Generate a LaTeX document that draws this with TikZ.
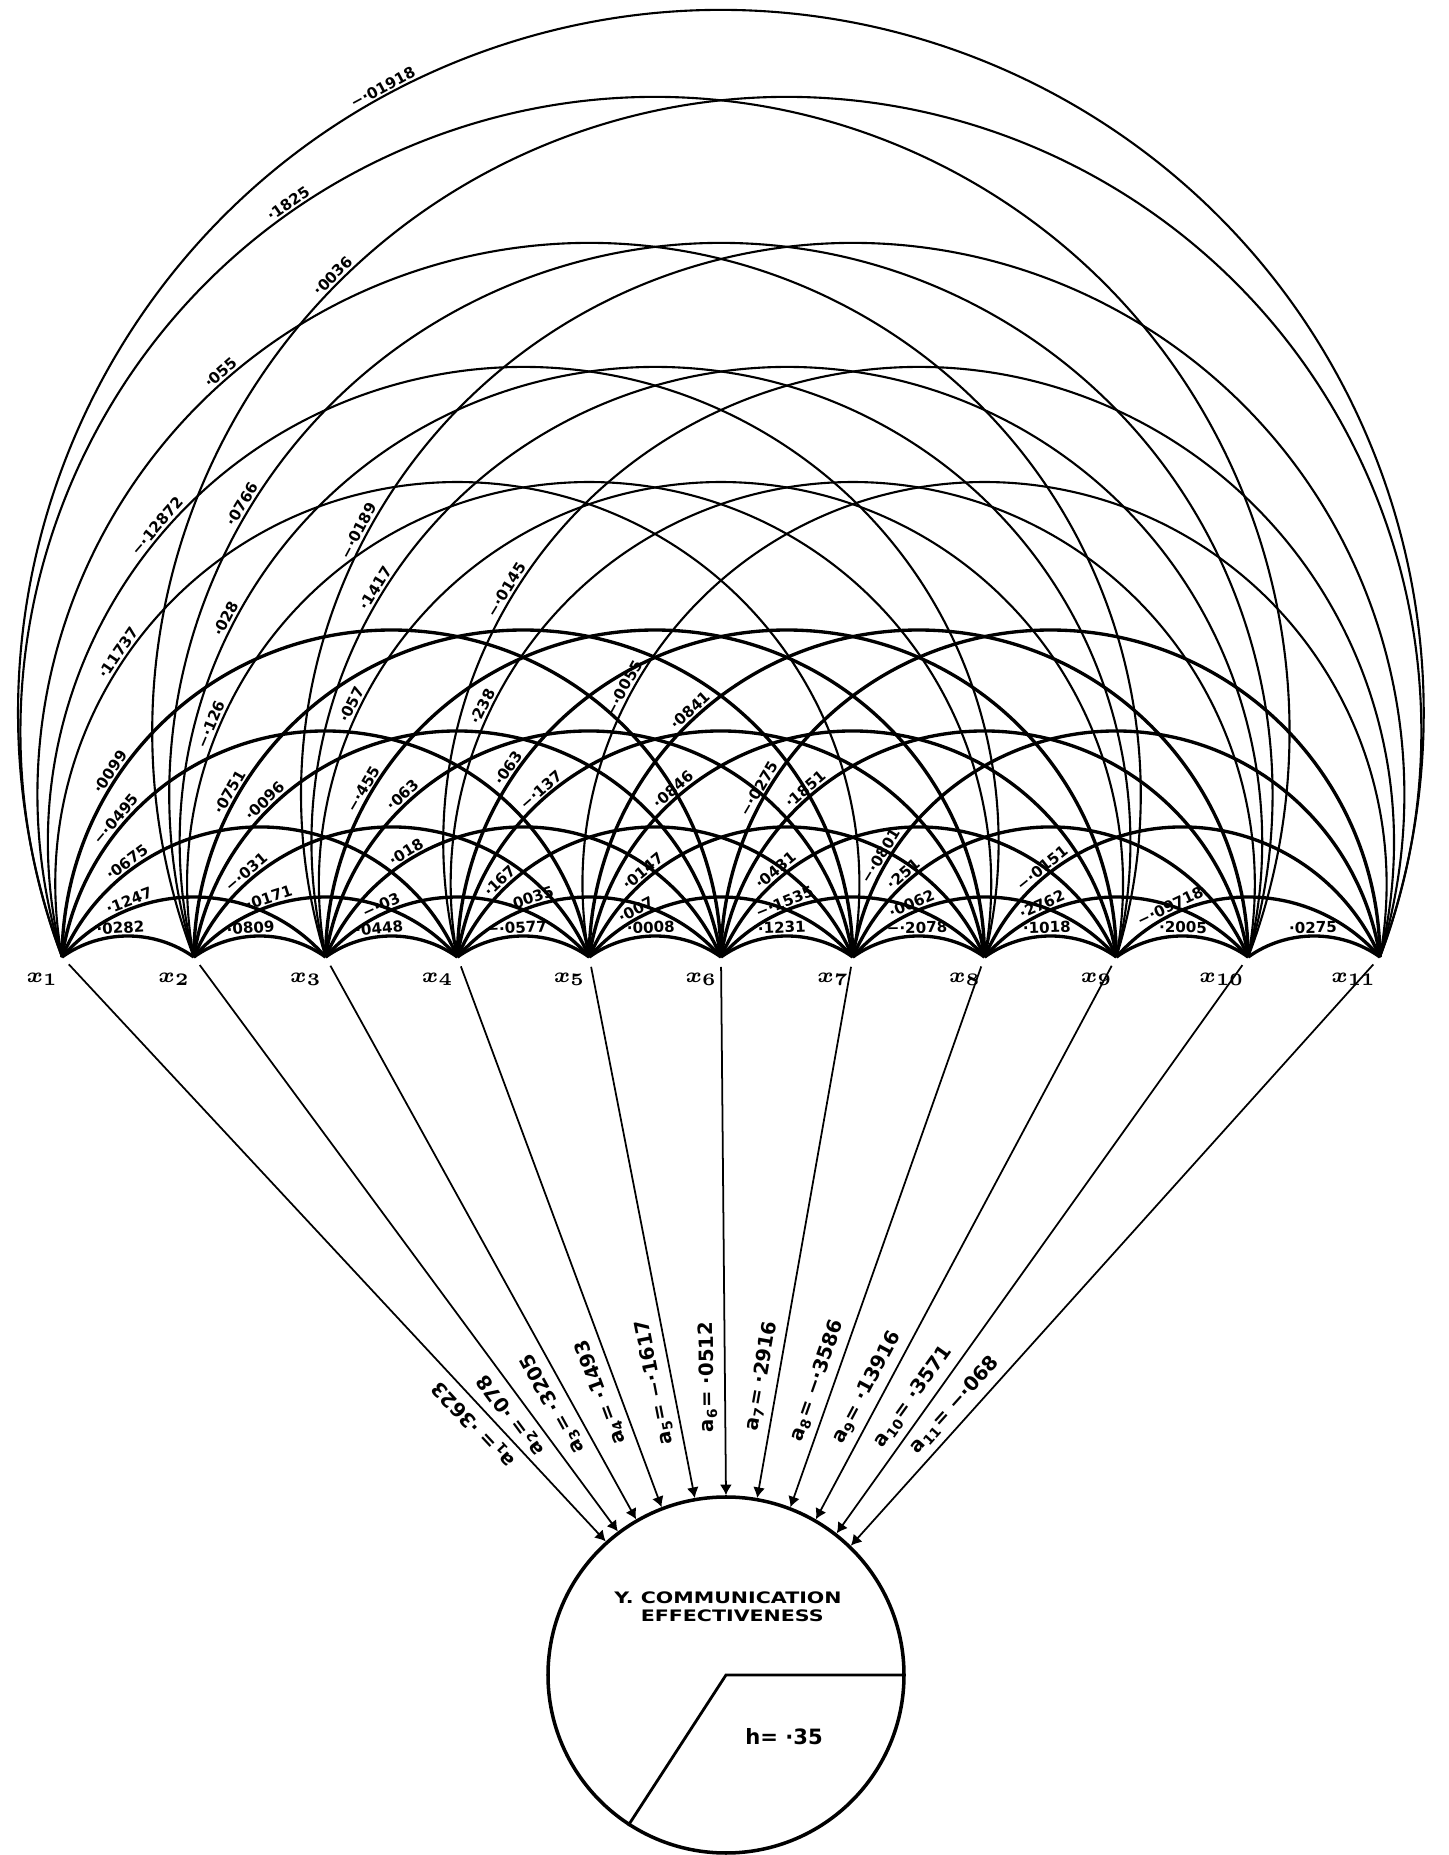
\documentclass[tikz,border=0pt]{standalone}
\usepackage{fontspec}
\newfontfamily\lblfont{DejaVu Sans}
\newfontfamily\widefont{DejaVu Sans}[FakeStretch=1.3]
\usetikzlibrary{arrows.meta, calc, positioning}

\tikzset{
  corr/.style={font=\lblfont\bfseries\fontsize{4.3}{5}\selectfont, anchor=south, inner sep=0.6pt},
  xlab/.style={font=\boldmath\fontsize{6.5}{7}\selectfont, inner sep=0pt},
  alab/.style={font=\lblfont\bfseries\fontsize{5.6}{6}\selectfont, sloped, allow upside down, above=1.5pt, inner sep=0.5pt},
  wline/.style={line width=0.5pt, shorten >=1mm},
}

\begin{document}
\begin{tikzpicture}[>={Latex[length=3pt,width=3.4pt]}]
\useasboundingbox (0,0) rectangle (14.49,18.55);

% the eleven variables on the base line
\foreach \i in {1,...,11} {
  \coordinate (v\i) at ({0.62+1.318*(\i-1)}, 8.98);
  \node[xlab, below left=1.5mm and 0.3mm of v\i] (x\i) {$x_{\i}$};
}

% correlation arcs
\foreach \i/\j/\ang/\val in {
  1/2/93.5/·0282, 1/3/110.7/·1247, 1/4/126.4/·0675, 1/5/139.6/−·0495, 1/6/146.3/·0099,
  1/7/145.7/·11737, 1/8/139.2/−·12872, 1/9/131.1/·055, 1/10/124.8/·1825, 1/11/118.4/−·01918,
  2/3/94.3/·0809, 2/4/108/·0171, 2/5/130.5/−·031, 2/6/134.4/·0096, 2/7/150.3/·0751,
  2/8/157.1/−·126, 2/9/152.5/·028, 2/10/148.8/·0766, 2/11/134.9/·0036,
  3/4/95.8/·0448, 3/5/114.6/−·03, 3/6/121.6/·018, 3/7/132.6/·063, 3/8/149.7/−·455,
  3/9/154.1/·057, 3/10/148.3/·1417, 3/11/151.9/−·0189,
  4/5/93.1/−·0577, 4/6/108.7/·0035, 4/7/133.9/·167, 4/8/130.9/−·137, 4/9/145.5/·063,
  4/10/154.4/·238, 4/11/148.5/−·0145,
  5/6/92/·0008, 5/7/117.7/·007, 5/8/130.1/·0147, 5/9/130.8/·0846, 5/10/132.5/·0841,
  5/11/151.5/−·0055,
  6/7/92.4/·1231, 6/8/111.9/−·1535, 6/9/129.8/·0431, 6/10/130.7/·1851, 6/11/149.6/−·0275,
  7/8/90.8/−·2078, 7/9/113.5/·0062, 7/10/131.1/·251, 7/11/148.9/−·0801,
  8/9/91.7/·1018, 8/10/114/·2762, 8/11/128.8/−·0151,
  9/10/89.7/·2005, 9/11/115.2/−·09718,
  10/11/90.5/·0275} {
  \pgfmathtruncatemacro\kk{\j-\i}
  \pgfmathsetmacro\hh{{0.21,0.60,1.30,2.26,3.27,4.75,5.90,7.14,8.60,9.47}[\kk-1]}
  \pgfmathsetmacro\ww{0.659*\kk}
  \pgfmathsetmacro\RR{(\ww*\ww+\hh*\hh)/(2*\hh)}
  \pgfmathsetmacro\cc{\hh-\RR}
  \pgfmathsetmacro\ph{asin(\cc/\RR)}
  \pgfmathsetmacro\lw{\kk<6 ? 0.95 : 0.6}
  \draw[line width=\lw pt] (v\i) arc[start angle=180+\ph, end angle=-\ph, radius=\RR];
  \node[corr, rotate=\ang-90] at ($(v\i)+(\ww,\cc)+(\ang:\RR)$) {\val};
}

% criterion
\node[circle, draw, line width=1pt, minimum size=3.56cm, inner sep=0pt] (Y) at (7.26,1.80) {};
\draw[line width=0.8pt] (Y.east) -- (Y.center) -- (Y.237);
\node[font=\widefont\bfseries\fontsize{4.5}{5}\selectfont, anchor=north, below=8.4mm of Y.north, xshift=0.2mm] (ylab)
  {Y.~\begin{tabular}[t]{@{}l@{}}COMMUNICATION\\EFFECTIVENESS\end{tabular}};
\node[font=\lblfont\bfseries\fontsize{6}{7}\selectfont] (hval) at ($(Y.center)+(0.58,-0.62)$) {h= ·35};

% regression weights
\foreach \i/\ang/\val in {1/132.5/·3623, 2/127.5/·078, 3/120.7/·3205, 4/111.6/·1493,
  5/100.7/−·1617, 6/90/·0512, 7/80/·2916, 8/69.6/−·3586, 9/60.4/·13916,
  10/52.9/·3571, 11/46.9/−·068}
  \draw[wline, <-] (Y.\ang) -- node[alab, pos=0.22] {a\textsubscript{\i}= \val} (v\i);
\end{tikzpicture}
\end{document}
